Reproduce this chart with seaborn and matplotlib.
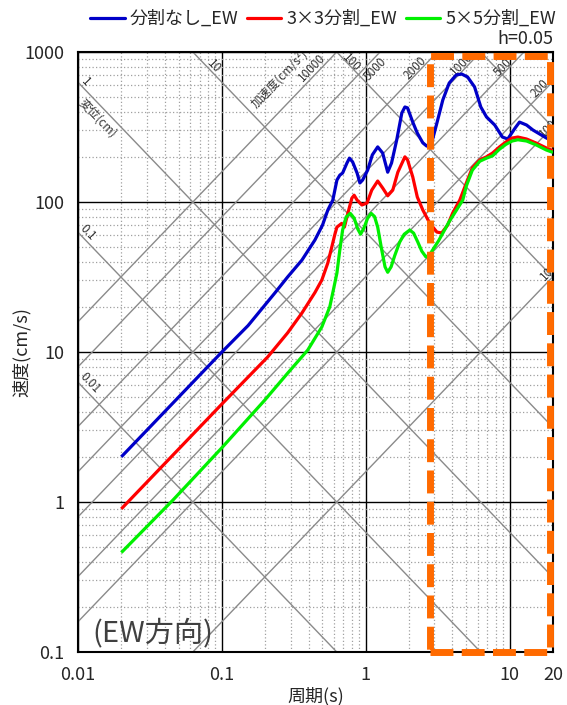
import numpy as np
import pandas as pd
import matplotlib
matplotlib.use("Agg")
import matplotlib.pyplot as plt
import seaborn as sns
from matplotlib.patches import Rectangle
from matplotlib.lines import Line2D

# ---------------- data ----------------
series_names = ["分割なし_EW", "3×3分割_EW", "5×5分割_EW"]
series_colors = ["#0000C8", "#FF0000", "#00F000"]

period_blue = [0.02, 0.05, 0.1, 0.152, 0.233, 0.286, 0.36, 0.443, 0.50, 0.545, 0.59, 0.63,
               0.66, 0.69, 0.74, 0.77, 0.81, 0.87, 0.91, 0.95, 1.03, 1.11, 1.21, 1.31, 1.42,
               1.51, 1.64, 1.78, 1.87, 1.95, 2.12, 2.28, 2.49, 2.65, 2.88, 3.12, 3.43, 3.8,
               4.25, 4.64, 5.1, 5.7, 6.3, 6.9, 7.87, 8.9, 9.7, 10.9, 11.7, 13.1, 14.5, 18.0,
               20.0]
vel_blue = [2.0, 5.0, 10.0, 15.0, 24.7, 31.6, 41.0, 55.8, 70.0, 88.5, 103, 140,
            151, 156, 182, 196, 185, 156, 134, 140, 163, 206, 233, 212, 158,
            182, 259, 392, 430, 424, 341, 288, 248, 236, 251, 336, 479, 621,
            703, 713, 681, 585, 430, 369, 326, 271, 263, 311, 341, 326, 302, 267,
            255]

period_red = [0.02, 0.05, 0.1, 0.152, 0.208, 0.286, 0.36, 0.443, 0.495, 0.545, 0.58, 0.61,
              0.63, 0.68, 0.71, 0.75, 0.80, 0.83, 0.87, 0.94, 1.02, 1.10, 1.21, 1.31, 1.42,
              1.54, 1.67, 1.87, 1.95, 2.12, 2.28, 2.49, 2.78, 3.12, 3.37, 3.7, 4.02, 4.5,
              5.0, 5.5, 6.2, 6.9, 7.6, 8.5, 9.4, 10.4, 11.4, 13.1, 15.3, 18.0, 20.0]
vel_red = [0.9, 2.25, 4.5, 6.8, 9.26, 13.4, 18.2, 24.9, 30.2, 39.3, 50.0, 61.0,
           68.0, 72.0, 68.0, 84.0, 106, 111, 103, 95.5, 98.5, 120, 138, 124, 110,
           120, 158, 200, 191, 147, 108, 88.5, 72.4, 63.0, 62.2, 70.0, 84.5, 103,
           134, 169, 191, 200, 212, 233, 251, 267, 271, 263, 247, 229, 220]

period_green = [0.02, 0.0457, 0.1, 0.199, 0.287, 0.395, 0.495, 0.562, 0.59, 0.63, 0.66,
                0.69, 0.73, 0.78, 0.83, 0.88, 0.92, 0.97, 1.03, 1.09, 1.15, 1.21, 1.29,
                1.36, 1.42, 1.50, 1.59, 1.72, 1.85, 2.02, 2.15, 2.30, 2.45, 2.62, 2.78,
                2.92, 3.2, 3.43, 3.8, 4.29, 4.72, 5.0, 5.5, 6.2, 6.9, 7.6, 8.5, 9.4,
                10.4, 11.4, 13.1, 15.3, 18.0, 20.0]
vel_green = [0.46, 1.03, 2.3, 4.79, 7.24, 10.3, 14.7, 20.0, 24.9, 33.6, 47.9,
             65.0, 79.4, 84.0, 78.0, 66.0, 61.0, 67.0, 78.0, 84.0, 80.0, 68.0, 48.0,
             37.0, 34.0, 37.0, 44.0, 54.0, 61.0, 65.0, 62.0, 54.0, 47.0, 43.0, 44.5,
             48.0, 55.0, 62.0, 74.0, 89.0, 103, 128, 163, 187, 196, 203, 225, 242,
             255, 260, 255, 240, 222, 214]

accel_lines = [10, 100, 200, 500, 1000, 2000, 5000, 10000]      # cm/s^2
disp_lines = [0.01, 0.1, 1, 10, 100, 1000]                       # cm

x_ticks = [0.01, 0.1, 1, 10, 20]
x_ticklabels = ["0.01", "0.1", "1", "10", "20"]
y_ticks = [0.1, 1, 10, 100, 1000]
y_ticklabels = ["0.1", "1", "10", "100", "1000"]

# ---------------- figure ----------------
sns.set_style("white")
plt.rcParams['font.family'] = ['Noto Sans CJK JP', 'DejaVu Sans']

W, H = 567, 705
fig = plt.figure(figsize=(W / 100, H / 100), dpi=100)
L, R, T, B = 78, 553, 52, 652
ax = fig.add_axes([L / W, 1 - B / H, (R - L) / W, (B - T) / H])
ax.set_xscale("log")
ax.set_yscale("log")
ax.set_xlim(0.01, 20)
ax.set_ylim(0.1, 1000)

# grid
ax.grid(True, which="major", color="black", lw=1.0, ls="-", zorder=0)
ax.grid(True, which="minor", color="#a0a0a0", lw=0.9, ls=(0, (1, 1.8)), zorder=0)
ax.set_axisbelow(True)

# tripartite diagonal lines
tt = np.array([0.005, 40.0])
for a in accel_lines:
    ax.plot(tt, a * tt / (2 * np.pi), color="#8a8a8a", lw=1.0, zorder=1)
for d in disp_lines:
    ax.plot(tt, 2 * np.pi * d / tt, color="#8a8a8a", lw=1.0, zorder=1)

# curves
df = pd.concat([
    pd.DataFrame({"T": period_blue, "V": vel_blue, "s": series_names[0]}),
    pd.DataFrame({"T": period_red, "V": vel_red, "s": series_names[1]}),
    pd.DataFrame({"T": period_green, "V": vel_green, "s": series_names[2]}),
], ignore_index=True)
sns.lineplot(data=df, x="T", y="V", hue="s", palette=dict(zip(series_names, series_colors)),
             hue_order=series_names, sort=False, estimator=None, lw=2.3, ax=ax,
             legend=False, zorder=3)
for ln in ax.get_lines()[-3:]:
    ln.set_solid_joinstyle("round")
    ln.set_solid_capstyle("butt")

# ticks
ax.set_xticks(x_ticks)
ax.set_xticklabels(x_ticklabels)
ax.set_yticks(y_ticks)
ax.set_yticklabels(y_ticklabels)
ax.tick_params(axis="both", which="major", length=0, pad=10, labelsize=13)
ax.tick_params(axis="both", which="minor", direction="in", length=4, width=0.8,
               labelbottom=False, labelleft=False)
ax.minorticks_on()
ax.set_xlabel("周期(s)", fontsize=13, labelpad=2)
ax.set_ylabel("速度(cm/s)", fontsize=13)
ax.yaxis.set_label_coords(-(L - 31) / (R - L), 0.5)
for sp in ax.spines.values():
    sp.set_color("black")
    sp.set_linewidth(1.5)

# diagonal labels (pixel positions -> axes fraction)
def fx(px):
    return (px - L) / (R - L)

def fy(py):
    return (B - py) / (B - T)

ang = 46
asc_labels = [("加速度(cm/s²)", 279, 79), ("10000", 312, 68), ("5000", 375, 69),
              ("2000", 415, 68), ("1000", 462, 64), ("500", 503, 67), ("200", 540, 88),
              ("100", 548, 128), ("10", 547, 274)]
desc_labels = [("1", 86, 82), ("変位(cm)", 98, 118), ("0.1", 88, 233), ("0.01", 90, 383),
               ("10", 214, 66), ("100", 351, 63)]
for txt, px, py in asc_labels:
    ax.text(fx(px), fy(py), txt, transform=ax.transAxes, rotation=ang, fontsize=8.5,
            color="#333333", ha="center", va="center", rotation_mode="anchor", zorder=2,
            clip_on=True)
for txt, px, py in desc_labels:
    ax.text(fx(px), fy(py), txt, transform=ax.transAxes, rotation=-ang, fontsize=8.5,
            color="#333333", ha="center", va="center", rotation_mode="anchor", zorder=2,
            clip_on=True)

ax.text(fx(153), fy(633), "(EW方向)", transform=ax.transAxes, fontsize=21,
        color="#404040", ha="center", va="center", zorder=4)

# orange dashed highlight box
rect = Rectangle((fx(430), fy(652)), fx(550) - fx(430), fy(56) - fy(652),
                 transform=ax.transAxes, fill=False, edgecolor="#FF6A00", lw=5,
                 ls=(0, (3.3, 1.2)), clip_on=False, zorder=10)
ax.add_patch(rect)

# legend
handles = [Line2D([0], [0], color=c, lw=2.3) for c in series_colors]
fig.legend(handles, series_names, loc="upper right", bbox_to_anchor=(556 / W, 1 - 10 / H),
           ncol=3, frameon=False, fontsize=13, handlelength=1.9, handletextpad=0.3,
           columnspacing=0.45, borderpad=0, borderaxespad=0)
fig.text(553 / W, 1 - 39 / H, "h=0.05", ha="right", va="center", fontsize=13)

fig.savefig("out.png", dpi=100)
